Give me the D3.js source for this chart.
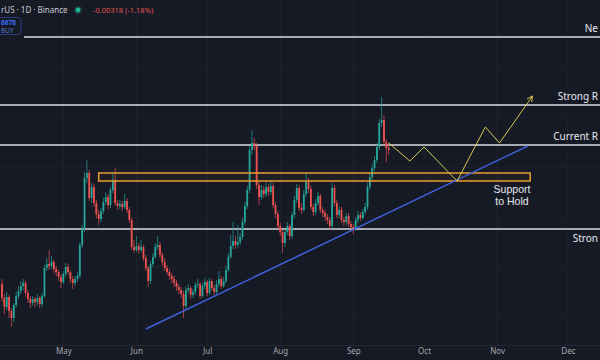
<!DOCTYPE html>
<html><head><meta charset="utf-8">
<script src="https://cdn.jsdelivr.net/npm/d3@7"></script>
<style>html,body{margin:0;padding:0;background:#161a25;overflow:hidden}svg{display:block}</style>
</head><body><svg id="c" width="600" height="360"></svg>
<script>
const startDate = "2025-04-05";
const opens = [
0.133,0.119,0.110,0.120,0.106,0.099,0.112,0.121,0.126,0.131,0.134,0.124,0.118,0.114,0.118,
0.115,0.119,0.113,0.121,0.149,0.153,0.151,0.155,0.148,0.145,0.140,0.135,0.143,0.150,0.145,
0.138,0.134,0.138,0.141,0.172,0.188,0.239,0.244,0.219,0.230,0.214,0.203,0.198,0.206,0.215,
0.220,0.212,0.227,0.237,0.214,0.211,0.213,0.210,0.216,0.207,0.197,0.170,0.167,0.171,0.167,
0.170,0.159,0.149,0.136,0.153,0.160,0.170,0.172,0.162,0.155,0.149,0.145,0.141,0.138,0.134,
0.130,0.127,0.123,0.111,0.127,0.129,0.122,0.125,0.132,0.133,0.121,0.131,0.135,0.124,0.136,
0.129,0.125,0.133,0.138,0.131,0.136,0.147,0.160,0.171,0.176,0.172,0.175,0.180,0.195,0.211,
0.227,0.267,0.274,0.271,0.232,0.220,0.227,0.223,0.230,0.225,0.231,0.212,0.203,0.191,0.185,
0.174,0.185,0.191,0.181,0.202,0.217,0.229,0.209,0.207,0.223,0.235,0.228,0.210,0.205,0.214,
0.221,0.207,0.204,0.200,0.197,0.191,0.229,0.214,0.202,0.207,0.197,0.195,0.201,0.193,0.190,
0.189,0.197,0.202,0.199,0.205,0.210,0.230,0.240,0.249,0.257,0.270,0.294,0.297,0.275,0.269];
const highs = [
0.138,0.123,0.125,0.122,0.109,0.114,0.125,0.131,0.136,0.138,0.136,0.127,0.121,0.121,0.120,
0.123,0.121,0.124,0.152,0.159,0.167,0.161,0.157,0.151,0.147,0.143,0.146,0.154,0.153,0.147,
0.141,0.141,0.145,0.175,0.192,0.245,0.257,0.247,0.234,0.233,0.217,0.207,0.209,0.219,0.225,
0.223,0.230,0.243,0.249,0.217,0.217,0.216,0.223,0.219,0.210,0.199,0.177,0.181,0.174,0.177,
0.172,0.162,0.151,0.156,0.164,0.174,0.181,0.175,0.165,0.159,0.152,0.148,0.144,0.141,0.137,
0.133,0.130,0.126,0.130,0.133,0.131,0.128,0.135,0.138,0.135,0.134,0.139,0.137,0.139,0.138,
0.132,0.137,0.146,0.141,0.140,0.151,0.164,0.182,0.195,0.181,0.192,0.184,0.199,0.215,0.231,
0.271,0.287,0.279,0.274,0.235,0.232,0.231,0.234,0.233,0.237,0.234,0.215,0.206,0.194,0.188,
0.188,0.195,0.193,0.205,0.221,0.233,0.232,0.214,0.227,0.244,0.239,0.231,0.213,0.218,0.225,
0.223,0.210,0.207,0.203,0.200,0.234,0.232,0.217,0.211,0.210,0.200,0.204,0.204,0.196,0.193,
0.200,0.206,0.205,0.208,0.214,0.234,0.244,0.253,0.261,0.274,0.298,0.320,0.302,0.278,0.274];
const lows = [
0.115,0.103,0.107,0.099,0.090,0.095,0.109,0.118,0.123,0.127,0.120,0.114,0.109,0.111,0.110,
0.112,0.109,0.110,0.119,0.146,0.147,0.148,0.144,0.141,0.136,0.129,0.133,0.140,0.142,0.134,
0.128,0.131,0.135,0.139,0.169,0.185,0.234,0.216,0.214,0.210,0.199,0.192,0.195,0.203,0.212,
0.208,0.209,0.224,0.211,0.207,0.208,0.206,0.208,0.204,0.194,0.167,0.164,0.165,0.163,0.165,
0.156,0.146,0.130,0.133,0.150,0.158,0.167,0.159,0.151,0.146,0.142,0.137,0.134,0.130,0.126,
0.123,0.119,0.099,0.108,0.124,0.118,0.119,0.122,0.129,0.118,0.119,0.128,0.121,0.122,0.126,
0.121,0.123,0.130,0.128,0.129,0.134,0.145,0.158,0.168,0.168,0.169,0.172,0.177,0.192,0.208,
0.224,0.262,0.267,0.228,0.212,0.217,0.219,0.220,0.221,0.222,0.209,0.199,0.188,0.181,0.164,
0.170,0.182,0.177,0.178,0.199,0.214,0.206,0.203,0.205,0.220,0.224,0.207,0.201,0.202,0.211,
0.204,0.200,0.196,0.193,0.187,0.188,0.211,0.199,0.199,0.194,0.191,0.192,0.190,0.186,0.183,
0.186,0.194,0.196,0.197,0.202,0.207,0.227,0.237,0.246,0.254,0.267,0.290,0.272,0.255,0.262];
const closes = [
0.119,0.110,0.120,0.106,0.099,0.112,0.121,0.126,0.131,0.134,0.124,0.118,0.114,0.118,0.115,
0.119,0.113,0.121,0.149,0.153,0.151,0.155,0.148,0.145,0.140,0.135,0.143,0.150,0.145,0.138,
0.134,0.138,0.141,0.172,0.188,0.239,0.244,0.219,0.230,0.214,0.203,0.198,0.206,0.215,0.220,
0.212,0.227,0.237,0.214,0.211,0.213,0.210,0.216,0.207,0.197,0.170,0.167,0.171,0.167,0.170,
0.159,0.149,0.136,0.153,0.160,0.170,0.172,0.162,0.155,0.149,0.145,0.141,0.138,0.134,0.130,
0.127,0.123,0.111,0.127,0.129,0.122,0.125,0.132,0.133,0.121,0.131,0.135,0.124,0.136,0.129,
0.125,0.133,0.138,0.131,0.136,0.147,0.160,0.171,0.176,0.172,0.175,0.180,0.195,0.211,0.227,
0.267,0.274,0.271,0.232,0.220,0.227,0.223,0.230,0.225,0.231,0.212,0.203,0.191,0.185,0.174,
0.185,0.191,0.181,0.202,0.217,0.229,0.209,0.207,0.223,0.235,0.228,0.210,0.205,0.214,0.221,
0.207,0.204,0.200,0.197,0.191,0.229,0.214,0.202,0.207,0.197,0.195,0.201,0.193,0.190,0.189,
0.197,0.202,0.199,0.205,0.210,0.230,0.240,0.249,0.257,0.270,0.294,0.297,0.275,0.269,0.267];

const monthTicks = ["2025-05-01","2025-06-01","2025-07-01","2025-08-01","2025-09-01","2025-10-01","2025-11-01","2025-12-01"];
const levelNames = ["Ne","Strong R","Current R","Stron"];
const levelPrices = [0.380, 0.312, 0.272, 0.188];
const zoneDates = ["2025-05-16","2025-11-15"];
const zonePrices = [0.236, 0.244];
const zoneLabel = ["Support","to Hold"];
const trendDates = ["2025-06-05","2025-11-14"];
const trendPrices = [0.088, 0.271];
const pathDates = ["2025-09-16","2025-09-25","2025-10-01","2025-10-15","2025-10-27","2025-11-02","2025-11-16"];
const pathPrices = [0.274, 0.256, 0.270, 0.236, 0.290, 0.274, 0.321];
const gridPrices = [0.10,0.15,0.20,0.25,0.30,0.35];
const headerTitle = "rUS · 1D · Binance";
const headerChange = "-0.00318 (-1.18%)";
const badgeTop = "6678", badgeBottom = "BUY";

const P = d => d3.utcParse("%Y-%m-%d")(d);
const t0 = P(startDate);
const dates = closes.map((_, i) => d3.utcDay.offset(t0, i));
const candles = dates.map((d, i) => ({d, o: opens[i], h: highs[i], l: lows[i], c: closes[i]}));

const svg = d3.select("#c");
const W = 600, H = 360, plotBottom = 345;
const x = d3.scaleUtc().domain([t0, P("2025-12-01")]).range([2, 567.9]);
const y = d3.scaleLinear().domain([0.057, 0.417]).range([360, 0]);

svg.append("rect").attr("width", W).attr("height", H).attr("fill", "#161a25");
svg.append("defs").append("clipPath").attr("id","pc").append("rect").attr("width", W).attr("height", plotBottom);
const g = svg.append("g").attr("clip-path","url(#pc)");

// grid
g.selectAll(".vg").data(monthTicks).join("line")
  .attr("x1", d => x(P(d))).attr("x2", d => x(P(d))).attr("y1", 0).attr("y2", plotBottom)
  .attr("stroke", "#1f2331").attr("stroke-width", 1);
g.selectAll(".hg").data(gridPrices).join("line")
  .attr("x1", 0).attr("x2", W).attr("y1", d => Math.round(y(d)) + 0.5).attr("y2", d => Math.round(y(d)) + 0.5)
  .attr("stroke", "#1c202c").attr("stroke-width", 1);

// level lines
g.selectAll(".lv").data(levelPrices).join("line")
  .attr("x1", (d, i) => i === 0 ? 24 : 0).attr("x2", W)
  .attr("y1", d => y(d)).attr("y2", d => y(d))
  .attr("stroke", "#d9dce4").attr("stroke-width", 1.5);

// candles
const green = "#26a69a", red = "#ef5350";
const cg = g.append("g");
cg.selectAll(".wk").data(candles).join("line")
  .attr("x1", d => x(d.d)).attr("x2", d => x(d.d))
  .attr("y1", d => y(d.h)).attr("y2", d => y(d.l))
  .attr("stroke", d => d.c >= d.o ? green : red).attr("stroke-width", 0.8).attr("opacity", 0.85);
cg.selectAll(".bd").data(candles).join("rect")
  .attr("x", d => x(d.d) - 0.9).attr("width", 1.8)
  .attr("y", d => y(Math.max(d.o, d.c)))
  .attr("height", d => Math.max(0.8, Math.abs(y(d.o) - y(d.c))))
  .attr("fill", d => d.c >= d.o ? green : red);

// support zone
g.append("rect")
  .attr("x", x(P(zoneDates[0]))).attr("width", x(P(zoneDates[1])) - x(P(zoneDates[0])))
  .attr("y", y(zonePrices[1])).attr("height", y(zonePrices[0]) - y(zonePrices[1]))
  .attr("fill", "rgba(240,160,50,0.04)").attr("stroke", "#eb9f33").attr("stroke-width", 1.5);

// trendline
g.append("line")
  .attr("x1", x(P(trendDates[0]))).attr("y1", y(trendPrices[0]))
  .attr("x2", x(P(trendDates[1]))).attr("y2", y(trendPrices[1]))
  .attr("stroke", "#4060dd").attr("stroke-width", 1.5);

// projection path
const defs = svg.select("defs");
defs.append("marker").attr("id","ah").attr("viewBox","0 0 10 10").attr("refX",9).attr("refY",5)
  .attr("markerWidth",7).attr("markerHeight",7).attr("orient","auto-start-reverse")
  .append("path").attr("d","M1,1 L9,5 L1,9").attr("fill","none").attr("stroke","#d8c950").attr("stroke-width",1.3);
g.append("path")
  .datum(pathDates.map((d, i) => [x(P(d)), y(pathPrices[i])]))
  .attr("d", d3.line()).attr("fill","none").attr("stroke","#d8c950").attr("stroke-width",1)
  .attr("marker-end","url(#ah)");

// level labels (right-aligned at the edge as seen)
const font = "'Noto Sans', 'DejaVu Sans', sans-serif";
const font2 = "'Liberation Sans', Arial, sans-serif";
const labelDy = [-5, -5, -5, 13];
g.selectAll(".lt").data(levelNames).join("text")
  .attr("x", 598).attr("text-anchor", "end")
  .attr("y", (d, i) => y(levelPrices[i]) + labelDy[i])
  .attr("fill", "#e6e8ee").attr("font-family", font).attr("font-size", 10).text(d => d);
g.selectAll(".zt").data(zoneLabel).join("text")
  .attr("text-anchor","middle").attr("fill","#e6e8ee")
  .attr("font-family", font2).attr("font-size", 10.5)
  .attr("x", 512).attr("y", (d, i) => y(zonePrices[0]) + 12 + i * 12).text(d => d);

// time axis
svg.append("line").attr("x1",0).attr("x2",W).attr("y1",plotBottom+0.5).attr("y2",plotBottom+0.5).attr("stroke","#232734");
const ax = svg.append("g").attr("transform", `translate(0,${plotBottom})`)
  .call(d3.axisBottom(x).tickValues(monthTicks.map(P)).tickFormat(d3.utcFormat("%b")).tickSize(0).tickPadding(3));
ax.select(".domain").remove();
ax.selectAll("text").attr("fill","#a3a6af").attr("font-family", font).attr("font-size", 8);

// header
svg.append("text").attr("x", 1).attr("y", 13).attr("fill","#c9ccd4").attr("font-family", font).attr("font-size", 8).text(headerTitle);
svg.append("circle").attr("cx", 78).attr("cy", 10).attr("r", 4).attr("fill","rgba(38,166,154,0.25)");
svg.append("circle").attr("cx", 78).attr("cy", 10).attr("r", 2.4).attr("fill","#22b591");
svg.append("text").attr("x", 93).attr("y", 13).attr("fill","#e0524f").attr("font-family", font).attr("font-size", 7.5).text(headerChange);
svg.append("rect").attr("x", -4).attr("y", 17.5).attr("width", 25).attr("height", 17).attr("rx", 2.5)
  .attr("fill","#161a25").attr("stroke","#2b3a7a").attr("stroke-width",1);
svg.append("text").attr("x", 1).attr("y", 25).attr("fill","#3d6bff").attr("font-family", font).attr("font-size", 6.5).attr("font-weight","bold").text(badgeTop);
svg.append("text").attr("x", 1).attr("y", 32.5).attr("fill","#5a7ad8").attr("font-family", font).attr("font-size", 6.5).text(badgeBottom);
</script></body></html>
